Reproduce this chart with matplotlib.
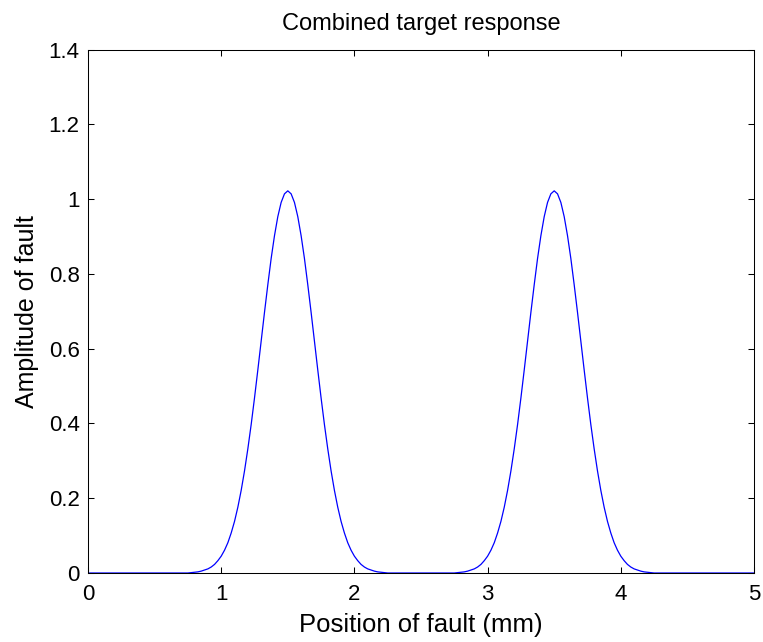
import matplotlib
matplotlib.use("Agg")
import matplotlib.pyplot as plt

plt.rcParams['font.family'] = ['Liberation Sans', 'DejaVu Sans']

# Values (position in mm, amplitude)
x_pos = [0.0, 0.5, 0.75, 0.775, 0.8, 0.825, 0.85, 0.875, 0.9, 0.925, 0.95, 0.975,
         1.0, 1.025, 1.05, 1.075, 1.1, 1.125, 1.15, 1.175, 1.2, 1.225, 1.25, 1.275,
         1.3, 1.325, 1.35, 1.375, 1.4, 1.425, 1.45, 1.475, 1.5, 1.525, 1.55, 1.575,
         1.6, 1.625, 1.65, 1.675, 1.7, 1.725, 1.75, 1.775, 1.8, 1.825, 1.85, 1.875,
         1.9, 1.925, 1.95, 1.975, 2.0, 2.025, 2.05, 2.075, 2.1, 2.125, 2.15, 2.175,
         2.2, 2.225, 2.25, 2.5,
         2.75, 2.775, 2.8, 2.825, 2.85, 2.875, 2.9, 2.925, 2.95, 2.975,
         3.0, 3.025, 3.05, 3.075, 3.1, 3.125, 3.15, 3.175, 3.2, 3.225, 3.25, 3.275,
         3.3, 3.325, 3.35, 3.375, 3.4, 3.425, 3.45, 3.475, 3.5, 3.525, 3.55, 3.575,
         3.6, 3.625, 3.65, 3.675, 3.7, 3.725, 3.75, 3.775, 3.8, 3.825, 3.85, 3.875,
         3.9, 3.925, 3.95, 3.975, 4.0, 4.025, 4.05, 4.075, 4.1, 4.125, 4.15, 4.175,
         4.2, 4.225, 4.25, 4.5, 5.0]
amplitude = [0.0, 0.0, 0.0, 0.001, 0.002, 0.003, 0.005, 0.008, 0.011, 0.016, 0.023, 0.033,
             0.045, 0.061, 0.081, 0.107, 0.138, 0.176, 0.221, 0.273, 0.332, 0.397, 0.468, 0.543,
             0.620, 0.697, 0.771, 0.841, 0.902, 0.953, 0.991, 1.014, 1.022, 1.014, 0.991, 0.953,
             0.902, 0.841, 0.771, 0.697, 0.620, 0.543, 0.468, 0.397, 0.332, 0.273, 0.221, 0.176,
             0.138, 0.107, 0.081, 0.061, 0.045, 0.033, 0.023, 0.016, 0.011, 0.008, 0.005, 0.003,
             0.002, 0.001, 0.0, 0.0,
             0.0, 0.001, 0.002, 0.003, 0.005, 0.008, 0.011, 0.016, 0.023, 0.033,
             0.045, 0.061, 0.081, 0.107, 0.138, 0.176, 0.221, 0.273, 0.332, 0.397, 0.468, 0.543,
             0.620, 0.697, 0.771, 0.841, 0.902, 0.953, 0.991, 1.014, 1.022, 1.014, 0.991, 0.953,
             0.902, 0.841, 0.771, 0.697, 0.620, 0.543, 0.468, 0.397, 0.332, 0.273, 0.221, 0.176,
             0.138, 0.107, 0.081, 0.061, 0.045, 0.033, 0.023, 0.016, 0.011, 0.008, 0.005, 0.003,
             0.002, 0.001, 0.0, 0.0, 0.0]

x_ticks = [0, 1, 2, 3, 4, 5]
x_tick_labels = ['0', '1', '2', '3', '4', '5']
y_ticks = [0, 0.2, 0.4, 0.6, 0.8, 1.0, 1.2, 1.4]
y_tick_labels = ['0', '0.2', '0.4', '0.6', '0.8', '1', '1.2', '1.4']

fig = plt.figure(figsize=(7.63, 6.42), dpi=100)
ax = fig.add_axes([88/763, 1 - 573/642, (754-88)/763, (573-49.5)/642])

ax.plot(x_pos, amplitude, color=(0, 0, 1), linewidth=0.9)

ax.set_xlim(0, 5)
ax.set_ylim(0, 1.4)
ax.set_xticks(x_ticks)
ax.set_xticklabels(x_tick_labels)
ax.set_yticks(y_ticks)
ax.set_yticklabels(y_tick_labels)

ax.tick_params(direction='in', length=4.5, width=0.75, top=True, right=True,
               labelsize=16)
ax.tick_params(axis='x', pad=8)
ax.tick_params(axis='y', pad=6)
for s in ax.spines.values():
    s.set_linewidth(0.75)

ax.set_title('Combined target response', fontsize=17, pad=14)
ax.set_xlabel('Position of fault (mm)', fontsize=18.5, labelpad=6)
ax.set_ylabel('Amplitude of fault', fontsize=18, labelpad=7)

fig.savefig('out.png', dpi=100)
